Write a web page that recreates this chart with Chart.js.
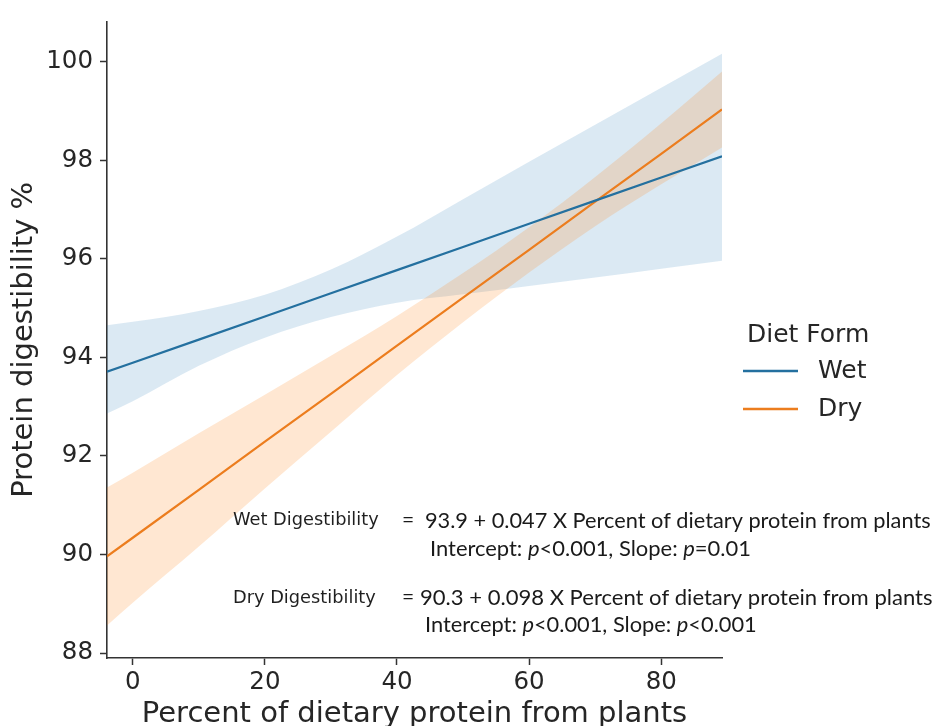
<!DOCTYPE html>
<html><head><meta charset="utf-8">
<script src="https://cdn.jsdelivr.net/npm/chart.js@4.4.1/dist/chart.umd.min.js"></script>
<style>html,body{margin:0;padding:0;background:#fff;}#wrap{width:934px;height:726px;position:relative;}</style>
</head><body><div id="wrap"><canvas id="c" width="934" height="726"></canvas></div>
<script>
// ---- data ----
const xValues  = [-3.9, 0, 10, 20, 30, 40, 50, 60, 70, 80, 89.2];
const wetFit   = [93.71, 93.89, 94.36, 94.83, 95.30, 95.77, 96.24, 96.71, 97.18, 97.65, 98.08];
const wetUpper = [94.65, 94.72, 94.94, 95.27, 95.78, 96.45, 97.21, 97.97, 98.72, 99.47, 100.16];
const wetLower = [92.86, 93.11, 93.83, 94.40, 94.82, 95.11, 95.28, 95.45, 95.62, 95.80, 95.96];
const dryFit   = [89.96, 90.34, 91.31, 92.29, 93.26, 94.24, 95.21, 96.18, 97.16, 98.13, 99.03];
const dryUpper = [91.36, 91.66, 92.46, 93.24, 94.03, 94.84, 95.71, 96.64, 97.66, 98.75, 99.80];
const dryLower = [88.56, 89.02, 90.16, 91.34, 92.49, 93.64, 94.71, 95.72, 96.66, 97.51, 98.26];
const xTicks = [0, 20, 40, 60, 80];
const yTicks = [88, 90, 92, 94, 96, 98, 100];
const seriesNames = ['Wet', 'Dry'];
const legendTitle = 'Diet Form';
const xTitle = 'Percent of dietary protein from plants';
const yTitle = 'Protein digestibility %';
const eqLabels = ['Wet Digestibility', 'Dry Digestibility'];
const eqMain = ['93.9 + 0.047 X Percent of dietary protein from plants',
                '90.3 + 0.098 X Percent of dietary protein from plants'];
const eqStats = ['Intercept: *p*<0.001, Slope: *p*=0.01',
                 'Intercept: *p*<0.001, Slope: *p*<0.001'];

// ---- styles ----
const WET = '#24709f', DRY = '#ec7d1e';
const WET_BAND = 'rgba(31,119,180,0.16)', DRY_BAND = 'rgba(255,127,14,0.19)';
const AX = '#333333', TXT = '#262626';
const MPL = '"DejaVu Sans"';

const pts = arr => xValues.map((x, i) => ({x: x, y: arr[i]}));

function segs(str) {
  return str.split('*').map((t, i) => ({t: t, it: i % 2 === 1})).filter(s => s.t.length);
}
function drawFitted(ctx, segments, x, y, targetW, family) {
  const base = 20;
  let w = 0;
  segments.forEach(s => { ctx.font = (s.it ? 'italic ' : '') + base + 'px ' + family; w += ctx.measureText(s.t).width; });
  const size = base * targetW / w;
  let cx = x;
  segments.forEach(s => {
    ctx.font = (s.it ? 'italic ' : '') + size + 'px ' + family;
    ctx.fillText(s.t, cx, y);
    cx += ctx.measureText(s.t).width;
  });
}

const overlay = {
  id: 'overlay',
  afterDraw(chart) {
    const ctx = chart.ctx;
    ctx.save();
    ctx.textBaseline = 'alphabetic';
    ctx.textAlign = 'left';
    // legend
    ctx.fillStyle = TXT;
    ctx.font = '25px ' + MPL;
    ctx.fillText(legendTitle, 747, 342);
    const cols = [WET, DRY];
    const ly = [371, 409];
    const ty = [378, 416];
    seriesNames.forEach((n, i) => {
      ctx.strokeStyle = cols[i]; ctx.lineWidth = 2.4;
      ctx.beginPath(); ctx.moveTo(743, ly[i]); ctx.lineTo(798, ly[i]); ctx.stroke();
      ctx.fillStyle = TXT; ctx.font = '25px ' + MPL;
      ctx.fillText(n, 818, ty[i]);
    });
    // equations
    const labelBase = [525, 603];
    const mainBase = [528, 605];
    const mainX = [425, 420], mainW = [506, 513];
    const statBase = [556, 632];
    const statX = [430, 425], statW = [321, 332];
    for (let i = 0; i < 2; i++) {
      ctx.fillStyle = '#1f1f1f';
      ctx.font = '17.8px ' + MPL;
      ctx.fillText(eqLabels[i], 233, labelBase[i]);
      ctx.fillStyle = '#1a1a1a';
      ctx.font = '21px Lato';
      ctx.fillText('=', 402, mainBase[i] - 1);
      drawFitted(ctx, segs(eqMain[i]), mainX[i], mainBase[i], mainW[i], 'Lato');
      drawFitted(ctx, segs(eqStats[i]), statX[i], statBase[i], statW[i], 'Lato');
    }
    ctx.restore();
  }
};

const bandDs = (data, color, fillTarget, order) => ({
  data: data, borderWidth: 0, borderColor: 'rgba(0,0,0,0)', pointRadius: 0,
  backgroundColor: color, fill: fillTarget, order: order, cubicInterpolationMode: 'monotone'
});

new Chart(document.getElementById('c'), {
  type: 'line',
  data: {
    datasets: [
      bandDs(pts(wetLower), WET_BAND, false, 3),
      bandDs(pts(wetUpper), WET_BAND, {target: 0}, 3),
      bandDs(pts(dryLower), DRY_BAND, false, 2),
      bandDs(pts(dryUpper), DRY_BAND, {target: 2}, 2),
      {label: seriesNames[0], data: pts(wetFit), borderColor: WET, borderWidth: 2.2, pointRadius: 0, fill: false, order: 0},
      {label: seriesNames[1], data: pts(dryFit), borderColor: DRY, borderWidth: 2.2, pointRadius: 0, fill: false, order: 1}
    ]
  },
  options: {
    responsive: false, animation: false, devicePixelRatio: 1,
    layout: {padding: {left: 0, top: 18, right: 212, bottom: 0}},
    plugins: {legend: {display: false}, tooltip: {enabled: false}},
    scales: {
      x: {
        type: 'linear', min: -3.9, max: 89.2,
        afterBuildTicks: s => { s.ticks = xTicks.map(v => ({value: v})); },
        afterFit: s => { s.height = 68; },
        ticks: {font: {family: 'DejaVu Sans', size: 24.5}, color: TXT, padding: 3, maxRotation: 0},
        grid: {drawOnChartArea: false, drawTicks: true, tickLength: 7, tickWidth: 1.5, tickColor: AX},
        border: {display: true, color: AX, width: 1.6},
        title: {display: true, text: xTitle, font: {family: 'DejaVu Sans', size: 29, lineHeight: 1}, color: TXT, padding: {top: 0, bottom: -3}}
      },
      y: {
        type: 'linear', min: 87.9, max: 100.81,
        afterBuildTicks: s => { s.ticks = yTicks.map(v => ({value: v})); },
        afterFit: s => { s.width = 107; },
        ticks: {font: {family: 'DejaVu Sans', size: 24.5}, color: TXT, padding: 7},
        grid: {drawOnChartArea: false, drawTicks: true, tickLength: 7, tickWidth: 1.5, tickColor: AX},
        border: {display: true, color: AX, width: 1.6},
        title: {display: true, text: yTitle, font: {family: 'DejaVu Sans', size: 29, lineHeight: 1}, color: TXT, padding: {top: 10, bottom: 0}}
      }
    }
  },
  plugins: [overlay]
});
</script></body></html>
